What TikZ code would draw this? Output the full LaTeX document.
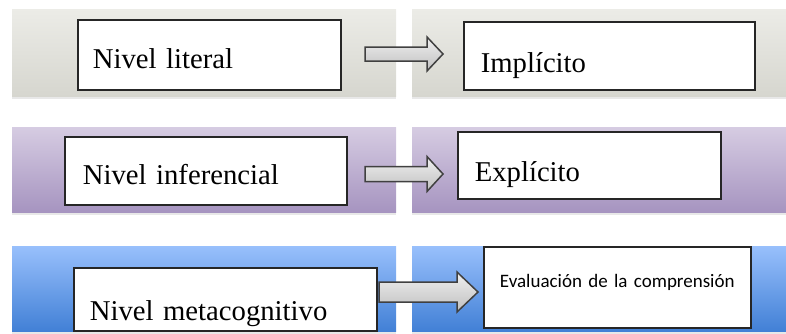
\documentclass[tikz,border=0pt]{standalone}
\usepackage{fontspec}
\setmainfont{Liberation Serif}
\newfontfamily\evalfont{Carlito}
\usetikzlibrary{calc}
\usetikzlibrary{shadows}

% band colours
\definecolor{grayTop}{RGB}{236,236,231}
\definecolor{grayBot}{RGB}{214,214,207}
\definecolor{lilacTop}{RGB}{214,204,226}
\definecolor{lilacBot}{RGB}{166,148,192}
\definecolor{blueTop}{RGB}{152,192,252}
\definecolor{blueBot}{RGB}{66,128,214}

\tikzset{
	band/.style={drop shadow={shadow xshift=0pt, shadow yshift=-3pt, opacity=0.18}},
	levelbox/.style={draw=black!85, line width=1.6pt, fill=white, anchor=north west,
		inner ysep=0pt, align=left, font=\fontsize{28.7}{30}\selectfont},
	blockarrow/.style={draw=black!75, line width=1.5pt, line join=miter,
		top color=black!6, bottom color=black!25}
}

% block arrow: start, tip, shaft half, head half, head length
\newcommand{\blockarrow}[5]{%
	\draw[blockarrow] ($(#1)+(0,-#3)$) -- ($(#2)+(-#5,-#3)$) -- ($(#2)+(-#5,-#4)$)
		-- (#2) -- ($(#2)+(-#5,#4)$) -- ($(#2)+(-#5,#3)$) -- ($(#1)+(0,#3)$) -- cycle;}

\begin{document}
\begin{tikzpicture}[x=1pt, y=-1pt]

	\useasboundingbox (0,0) rectangle (786,333);

	% background bands
	\fill[band, top color=grayTop, bottom color=grayBot] (12,9) rectangle (396,96);
	\fill[band, top color=grayTop, bottom color=grayBot] (412,9) rectangle (786,96);
	\fill[band, top color=lilacTop, bottom color=lilacBot] (12,127) rectangle (396,212);
	\fill[band, top color=lilacTop, bottom color=lilacBot] (412,127) rectangle (786,212);
	\fill[band, top color=blueTop, bottom color=blueBot] (12,246) rectangle (396,331);
	\fill[band, top color=blueTop, bottom color=blueBot] (412,246) rectangle (786,331);

	% level boxes
	\node[levelbox, inner xsep=15pt, text width=233pt, text height=49pt, text depth=21pt]
		(literal) at (77,19) {Nivel literal};
	\node[levelbox, inner xsep=18pt, text width=246pt, text height=48pt, text depth=20pt]
		(inferencial) at (64,136) {Nivel inferencial};
	\node[levelbox, inner xsep=16pt, text width=271pt, text height=53pt, text depth=10pt]
		(meta) at (73,267) {Nivel metacognitivo};

	% result boxes
	\node[levelbox, inner xsep=17pt, text width=257pt, text height=51pt, text depth=17pt]
		(implicito) at (463,21) {Implícito};
	\node[levelbox, inner xsep=17pt, text width=229pt, text height=50pt, text depth=17pt]
		(explicito) at (457,131) {Explícito};
	\node[levelbox, inner xsep=10pt, text width=247pt, text height=41pt, text depth=40pt,
		align=center, font=\evalfont\fontsize{19}{21}\selectfont]
		(evaluacion) at (483,246) {Evaluación de la comprensión};

	% arrow end points
	\coordinate (a1s) at (365,54);
	\coordinate (a1e) at (443,54);
	\coordinate (a2s) at (365,174);
	\coordinate (a2e) at (443,174);
	\coordinate (a3s) at (379,292);
	\coordinate (a3e) at (478,292);

	% arrows between the boxes
	\blockarrow{a1s}{a1e}{7}{17}{16}
	\blockarrow{a2s}{a2e}{7.5}{17.5}{16}
	\blockarrow{a3s}{a3e}{10}{20}{21}

\end{tikzpicture}
\end{document}
